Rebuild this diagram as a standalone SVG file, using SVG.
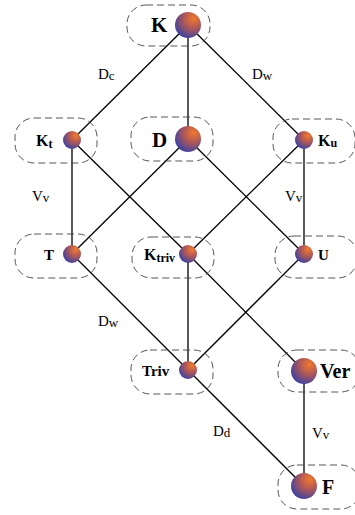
<svg xmlns="http://www.w3.org/2000/svg" width="355" height="515" viewBox="0 0 355 515">
<defs>
<radialGradient id="sph" cx="0.68" cy="0.3" r="0.8" fx="0.72" fy="0.25">
<stop offset="0" stop-color="#f27a2c"/>
<stop offset="0.45" stop-color="#b05858"/>
<stop offset="1" stop-color="#3040a8"/>
</radialGradient>
</defs>
<style>
.box{fill:none;stroke:#444;stroke-width:0.9;stroke-dasharray:7 4}
.e{stroke:#000;stroke-width:1.3;fill:none}
.s{fill:url(#sph)}
.lb{font-family:"Liberation Serif",serif;font-weight:bold;fill:#000}
.el{font-family:"Liberation Serif",serif;font-size:15px;fill:#000}
</style>
<g id="edges">
<line class="e" x1="188" y1="25" x2="72" y2="140"/>
<line class="e" x1="188" y1="25" x2="188" y2="139"/>
<line class="e" x1="188" y1="25" x2="304" y2="140"/>
<line class="e" x1="72" y1="140" x2="72" y2="254"/>
<line class="e" x1="72" y1="140" x2="188" y2="254"/>
<line class="e" x1="188" y1="139" x2="72" y2="254"/>
<line class="e" x1="188" y1="139" x2="304" y2="254"/>
<line class="e" x1="304" y1="140" x2="188" y2="254"/>
<line class="e" x1="304" y1="140" x2="304" y2="254"/>
<line class="e" x1="72" y1="254" x2="188" y2="370"/>
<line class="e" x1="188" y1="254" x2="188" y2="370"/>
<line class="e" x1="188" y1="254" x2="304" y2="371"/>
<line class="e" x1="304" y1="254" x2="188" y2="370"/>
<line class="e" x1="188" y1="370" x2="304" y2="486"/>
<line class="e" x1="304" y1="371" x2="304" y2="486"/>
<text class="el" x="98" y="79">D<tspan font-size="13" dy="1">c</tspan></text>
<text class="el" x="252" y="79">D<tspan font-size="13" dy="1">w</tspan></text>
<text class="el" x="32" y="201">V<tspan font-size="13" dy="1">v</tspan></text>
<text class="el" x="285" y="201">V<tspan font-size="13" dy="1">v</tspan></text>
<text class="el" x="98" y="326">D<tspan font-size="13" dy="1">w</tspan></text>
<text class="el" x="213" y="436">D<tspan font-size="13" dy="1">d</tspan></text>
<text class="el" x="312" y="438">V<tspan font-size="13" dy="1">v</tspan></text>
</g>
<g id="K">
<rect class="box" x="127" y="5" width="83" height="41" rx="19"/>
<text class="lb" x="151" y="32" font-size="21">K</text>
<circle class="s" cx="188" cy="25" r="13"/>
</g>
<g id="Kt">
<rect class="box" x="15" y="118" width="82" height="45" rx="19"/>
<text class="lb" x="36" y="146" font-size="16">K<tspan font-size="12" dy="2">t</tspan></text>
<circle class="s" cx="72" cy="140" r="9"/>
</g>
<g id="D">
<rect class="box" x="131" y="117" width="82" height="44" rx="19"/>
<text class="lb" x="152" y="147" font-size="21">D</text>
<circle class="s" cx="188" cy="139" r="13"/>
</g>
<g id="Ku">
<rect class="box" x="273" y="119" width="82" height="44" rx="19"/>
<text class="lb" x="318" y="146" font-size="16">K<tspan font-size="12" dy="1">u</tspan></text>
<circle class="s" cx="304" cy="140" r="9"/>
</g>
<g id="T">
<rect class="box" x="15" y="234" width="82" height="44" rx="19"/>
<text class="lb" x="44" y="260" font-size="15">T</text>
<circle class="s" cx="72" cy="254" r="9"/>
</g>
<g id="Ktriv">
<rect class="box" x="132" y="237" width="82" height="41" rx="19"/>
<text class="lb" x="144" y="260" font-size="16">K<tspan font-size="12" dy="2">triv</tspan></text>
<circle class="s" cx="188" cy="254" r="9"/>
</g>
<g id="U">
<rect class="box" x="275" y="236" width="82" height="42" rx="19"/>
<text class="lb" x="318" y="260" font-size="15">U</text>
<circle class="s" cx="304" cy="254" r="9"/>
</g>
<g id="Triv">
<rect class="box" x="131" y="350" width="82" height="44" rx="19"/>
<text class="lb" x="142" y="376" font-size="15">Triv</text>
<circle class="s" cx="188" cy="370" r="9"/>
</g>
<g id="Ver">
<rect class="box" x="278" y="350" width="82" height="42" rx="19"/>
<text class="lb" x="320" y="378" font-size="20">Ver</text>
<circle class="s" cx="304" cy="371" r="13"/>
</g>
<g id="F">
<rect class="box" x="278" y="465" width="82" height="44" rx="19"/>
<text class="lb" x="322" y="494" font-size="20">F</text>
<circle class="s" cx="304" cy="486" r="13"/>
</g>
</svg>
